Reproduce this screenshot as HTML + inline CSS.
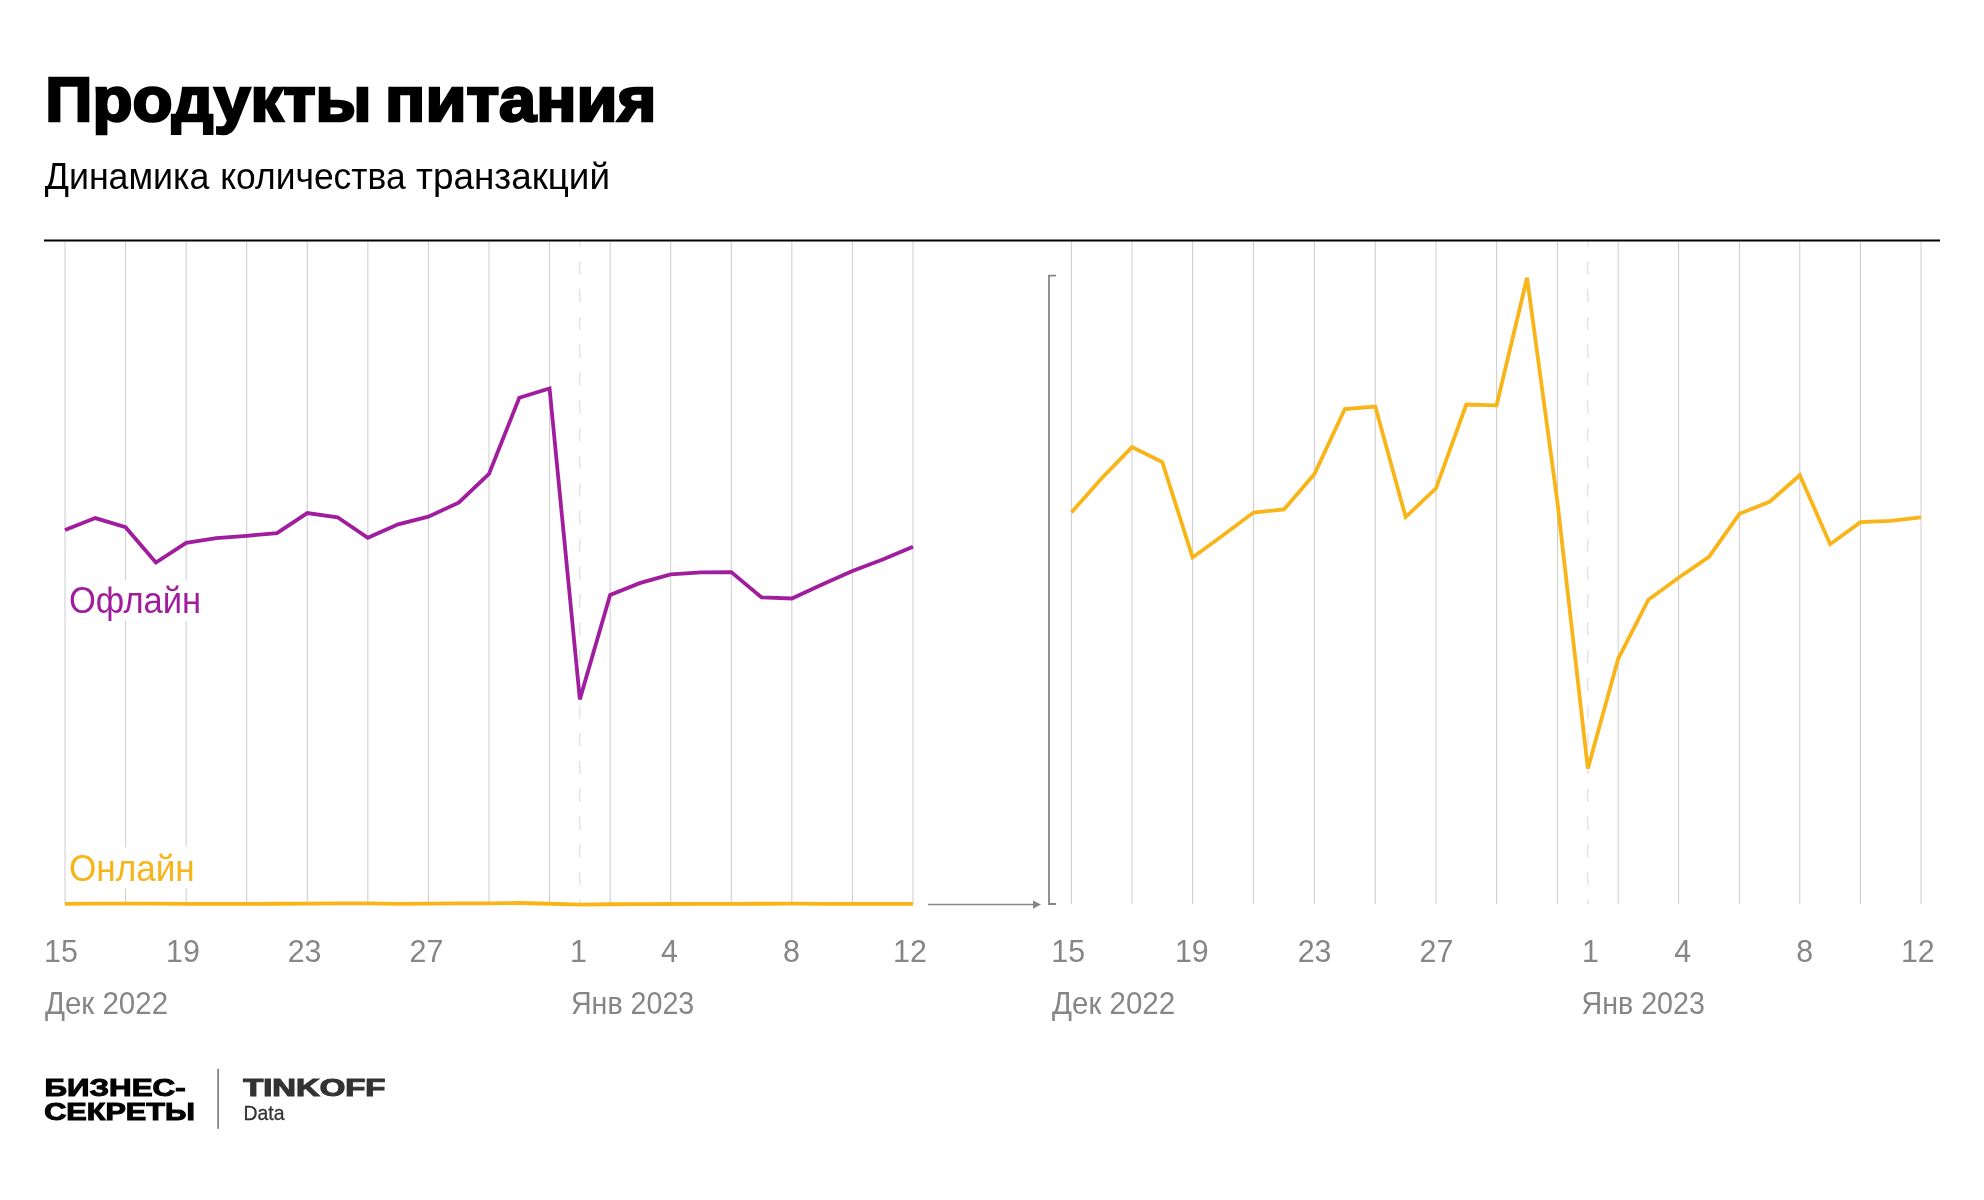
<!DOCTYPE html>
<html><head><meta charset="utf-8"><style>
html,body{margin:0;padding:0;background:#fff;}
body{width:1984px;height:1200px;overflow:hidden;}
svg{position:absolute;left:0;top:0;display:block;}
text{font-family:"Liberation Sans",sans-serif;}
svg{will-change:transform;}
</style></head><body>
<svg width="1984" height="1200" viewBox="0 0 1984 1200">
<line x1="65.00" y1="241.5" x2="65.00" y2="904" stroke="#cccccc" stroke-width="1"/>
<line x1="125.57" y1="241.5" x2="125.57" y2="904" stroke="#cccccc" stroke-width="1"/>
<line x1="186.14" y1="241.5" x2="186.14" y2="904" stroke="#cccccc" stroke-width="1"/>
<line x1="246.71" y1="241.5" x2="246.71" y2="904" stroke="#cccccc" stroke-width="1"/>
<line x1="307.28" y1="241.5" x2="307.28" y2="904" stroke="#cccccc" stroke-width="1"/>
<line x1="367.85" y1="241.5" x2="367.85" y2="904" stroke="#cccccc" stroke-width="1"/>
<line x1="428.42" y1="241.5" x2="428.42" y2="904" stroke="#cccccc" stroke-width="1"/>
<line x1="488.99" y1="241.5" x2="488.99" y2="904" stroke="#cccccc" stroke-width="1"/>
<line x1="549.56" y1="241.5" x2="549.56" y2="904" stroke="#cccccc" stroke-width="1"/>
<line x1="610.13" y1="241.5" x2="610.13" y2="904" stroke="#cccccc" stroke-width="1"/>
<line x1="670.70" y1="241.5" x2="670.70" y2="904" stroke="#cccccc" stroke-width="1"/>
<line x1="731.27" y1="241.5" x2="731.27" y2="904" stroke="#cccccc" stroke-width="1"/>
<line x1="791.84" y1="241.5" x2="791.84" y2="904" stroke="#cccccc" stroke-width="1"/>
<line x1="852.41" y1="241.5" x2="852.41" y2="904" stroke="#cccccc" stroke-width="1"/>
<line x1="912.98" y1="241.5" x2="912.98" y2="904" stroke="#cccccc" stroke-width="1"/>
<line x1="579.85" y1="241.5" x2="579.85" y2="904" stroke="#dddddd" stroke-width="1.2" stroke-dasharray="13.5 14.25" stroke-dashoffset="8"/>
<line x1="1071.40" y1="241.5" x2="1071.40" y2="904" stroke="#cccccc" stroke-width="1"/>
<line x1="1132.00" y1="241.5" x2="1132.00" y2="904" stroke="#cccccc" stroke-width="1"/>
<line x1="1192.60" y1="241.5" x2="1192.60" y2="904" stroke="#cccccc" stroke-width="1"/>
<line x1="1253.50" y1="241.5" x2="1253.50" y2="904" stroke="#cccccc" stroke-width="1"/>
<line x1="1314.40" y1="241.5" x2="1314.40" y2="904" stroke="#cccccc" stroke-width="1"/>
<line x1="1375.30" y1="241.5" x2="1375.30" y2="904" stroke="#cccccc" stroke-width="1"/>
<line x1="1436.00" y1="241.5" x2="1436.00" y2="904" stroke="#cccccc" stroke-width="1"/>
<line x1="1496.60" y1="241.5" x2="1496.60" y2="904" stroke="#cccccc" stroke-width="1"/>
<line x1="1557.50" y1="241.5" x2="1557.50" y2="904" stroke="#cccccc" stroke-width="1"/>
<line x1="1618.20" y1="241.5" x2="1618.20" y2="904" stroke="#cccccc" stroke-width="1"/>
<line x1="1678.60" y1="241.5" x2="1678.60" y2="904" stroke="#cccccc" stroke-width="1"/>
<line x1="1739.40" y1="241.5" x2="1739.40" y2="904" stroke="#cccccc" stroke-width="1"/>
<line x1="1799.80" y1="241.5" x2="1799.80" y2="904" stroke="#cccccc" stroke-width="1"/>
<line x1="1860.50" y1="241.5" x2="1860.50" y2="904" stroke="#cccccc" stroke-width="1"/>
<line x1="1921.00" y1="241.5" x2="1921.00" y2="904" stroke="#cccccc" stroke-width="1"/>
<line x1="1587.85" y1="241.5" x2="1587.85" y2="904" stroke="#dddddd" stroke-width="1.2" stroke-dasharray="13.5 14.25" stroke-dashoffset="8"/>
<rect x="67" y="580" width="136" height="41" fill="#fff"/>
<rect x="67" y="847" width="130" height="41" fill="#fff"/>
<rect x="44" y="239.5" width="1896" height="2" fill="#000"/>
<polyline points="65.00,903.78 95.28,903.66 125.57,903.56 155.86,903.61 186.14,903.92 216.43,903.85 246.71,903.78 277.00,903.77 307.28,903.65 337.56,903.44 367.85,903.43 398.13,903.79 428.42,903.70 458.70,903.42 488.99,903.43 519.27,903.01 549.56,903.74 579.85,904.61 610.13,904.25 640.41,904.06 670.70,903.99 700.99,903.92 731.27,903.78 761.55,903.74 791.84,903.65 822.12,903.88 852.41,903.81 882.70,903.80 912.98,903.79" fill="none" stroke="#f9b518" stroke-width="3.8" stroke-linejoin="miter"/>
<polyline points="65.00,530.00 95.28,518.10 125.57,527.20 155.86,562.60 186.14,542.90 216.43,538.10 246.71,535.80 277.00,533.20 307.28,513.10 337.56,517.30 367.85,537.80 398.13,524.30 428.42,516.60 458.70,502.60 488.99,473.90 519.27,397.80 549.56,388.40 579.85,699.40 610.13,594.90 640.41,582.90 670.70,574.35 700.99,572.40 731.27,572.10 761.55,597.40 791.84,598.50 822.12,584.60 852.41,570.90 882.70,559.60 912.98,546.80" fill="none" stroke="#a01d9d" stroke-width="3.8" stroke-linejoin="miter" stroke-miterlimit="2"/>
<polyline points="1071.40,512.50 1101.70,478.30 1132.00,447.10 1162.30,462.10 1192.60,557.50 1223.05,535.30 1253.50,512.50 1283.95,509.50 1314.40,474.10 1344.85,409.00 1375.30,406.55 1405.65,517.05 1436.00,488.30 1466.30,404.55 1496.60,405.30 1527.05,277.80 1557.50,502.80 1587.85,768.60 1618.20,658.80 1648.40,599.70 1678.60,577.80 1709.00,556.80 1739.40,513.80 1769.60,501.80 1799.80,475.20 1830.15,544.20 1860.50,522.20 1890.75,520.80 1921.00,517.30" fill="none" stroke="#f9b518" stroke-width="3.8" stroke-linejoin="miter" stroke-miterlimit="2"/>
<line x1="928" y1="904.5" x2="1034" y2="904.5" stroke="#868686" stroke-width="1.6"/>
<path d="M1033 900.5 L1041 904.5 L1033 908.7 Z" fill="#868686"/>
<path d="M1056 275.7 H1049 V904 H1056" fill="none" stroke="#868686" stroke-width="1.8"/>
<text x="45.3" y="120.6" font-size="63.5" font-weight="700" fill="#000" textLength="326.2" lengthAdjust="spacingAndGlyphs" stroke="#000" stroke-width="2.6" stroke-linejoin="miter" stroke-miterlimit="3">Продукты</text>
<text x="385.1" y="120.6" font-size="63.5" font-weight="700" fill="#000" textLength="271.3" lengthAdjust="spacingAndGlyphs" stroke="#000" stroke-width="2.6" stroke-linejoin="miter" stroke-miterlimit="3">питания</text>
<text x="44.7" y="188.8" font-size="37.7" font-weight="400" fill="#000" textLength="164.7" lengthAdjust="spacingAndGlyphs">Динамика</text>
<text x="220.2" y="188.8" font-size="37.7" font-weight="400" fill="#000" textLength="185.5" lengthAdjust="spacingAndGlyphs">количества</text>
<text x="416.1" y="188.8" font-size="37.7" font-weight="400" fill="#000" textLength="193.9" lengthAdjust="spacingAndGlyphs">транзакций</text>
<text x="68.9" y="612.5" font-size="37.8" font-weight="400" fill="#a01d9d" textLength="132.3" lengthAdjust="spacingAndGlyphs">Офлайн</text>
<text x="68.9" y="880.8" font-size="37.8" font-weight="400" fill="#f9b518" textLength="125.9" lengthAdjust="spacingAndGlyphs">Онлайн</text>
<text x="44.0" y="962.2" font-size="31.4" font-weight="400" fill="#868686" textLength="33.81" lengthAdjust="spacingAndGlyphs">15</text>
<text x="166.1" y="962.2" font-size="31.4" font-weight="400" fill="#868686" textLength="33.81" lengthAdjust="spacingAndGlyphs">19</text>
<text x="287.7" y="962.2" font-size="31.4" font-weight="400" fill="#868686" textLength="33.81" lengthAdjust="spacingAndGlyphs">23</text>
<text x="409.5" y="962.2" font-size="31.4" font-weight="400" fill="#868686" textLength="33.81" lengthAdjust="spacingAndGlyphs">27</text>
<text x="570.0" y="962.2" font-size="31.4" font-weight="400" fill="#868686" textLength="16.91" lengthAdjust="spacingAndGlyphs">1</text>
<text x="660.9" y="962.2" font-size="31.4" font-weight="400" fill="#868686" textLength="16.91" lengthAdjust="spacingAndGlyphs">4</text>
<text x="783.1" y="962.2" font-size="31.4" font-weight="400" fill="#868686" textLength="16.91" lengthAdjust="spacingAndGlyphs">8</text>
<text x="893.1" y="962.2" font-size="31.4" font-weight="400" fill="#868686" textLength="33.81" lengthAdjust="spacingAndGlyphs">12</text>
<text x="1051.3" y="962.2" font-size="31.4" font-weight="400" fill="#868686" textLength="33.81" lengthAdjust="spacingAndGlyphs">15</text>
<text x="1174.9" y="962.2" font-size="31.4" font-weight="400" fill="#868686" textLength="33.81" lengthAdjust="spacingAndGlyphs">19</text>
<text x="1297.7" y="962.2" font-size="31.4" font-weight="400" fill="#868686" textLength="33.81" lengthAdjust="spacingAndGlyphs">23</text>
<text x="1419.5" y="962.2" font-size="31.4" font-weight="400" fill="#868686" textLength="33.81" lengthAdjust="spacingAndGlyphs">27</text>
<text x="1582.0" y="962.2" font-size="31.4" font-weight="400" fill="#868686" textLength="16.91" lengthAdjust="spacingAndGlyphs">1</text>
<text x="1674.3" y="962.2" font-size="31.4" font-weight="400" fill="#868686" textLength="16.91" lengthAdjust="spacingAndGlyphs">4</text>
<text x="1796.3" y="962.2" font-size="31.4" font-weight="400" fill="#868686" textLength="16.91" lengthAdjust="spacingAndGlyphs">8</text>
<text x="1900.9" y="962.2" font-size="31.4" font-weight="400" fill="#868686" textLength="33.81" lengthAdjust="spacingAndGlyphs">12</text>
<text x="44.9" y="1014.4" font-size="31.4" font-weight="400" fill="#868686" textLength="123.2" lengthAdjust="spacingAndGlyphs">Дек 2022</text>
<text x="1052.0" y="1014.4" font-size="31.4" font-weight="400" fill="#868686" textLength="123.2" lengthAdjust="spacingAndGlyphs">Дек 2022</text>
<text x="570.9" y="1013.8" font-size="31.4" font-weight="400" fill="#868686" textLength="123.4" lengthAdjust="spacingAndGlyphs">Янв 2023</text>
<text x="1581.5" y="1013.8" font-size="31.4" font-weight="400" fill="#868686" textLength="123.4" lengthAdjust="spacingAndGlyphs">Янв 2023</text>
<text x="44.4" y="1095.6" font-size="23.4" font-weight="700" fill="#000" textLength="141.2" lengthAdjust="spacingAndGlyphs" stroke="#000" stroke-width="1.0" stroke-linejoin="miter" stroke-miterlimit="3">БИЗНЕС-</text>
<text x="44.2" y="1119.7" font-size="23.4" font-weight="700" fill="#000" textLength="150.8" lengthAdjust="spacingAndGlyphs" stroke="#000" stroke-width="1.0" stroke-linejoin="miter" stroke-miterlimit="3">СЕКРЕТЫ</text>
<rect x="217.3" y="1068.8" width="1.6" height="60" fill="#777"/>
<text x="243.2" y="1095.8" font-size="23.4" font-weight="700" fill="#333" textLength="142.2" lengthAdjust="spacingAndGlyphs" stroke="#333" stroke-width="1.1" stroke-linejoin="miter" stroke-miterlimit="3">TINKOFF</text>
<text x="243.5" y="1119.6" font-size="21" font-weight="400" fill="#333" textLength="41.0" lengthAdjust="spacingAndGlyphs" stroke="#333" stroke-width="0.3" stroke-linejoin="miter" stroke-miterlimit="3">Data</text>
</svg>
</body></html>
